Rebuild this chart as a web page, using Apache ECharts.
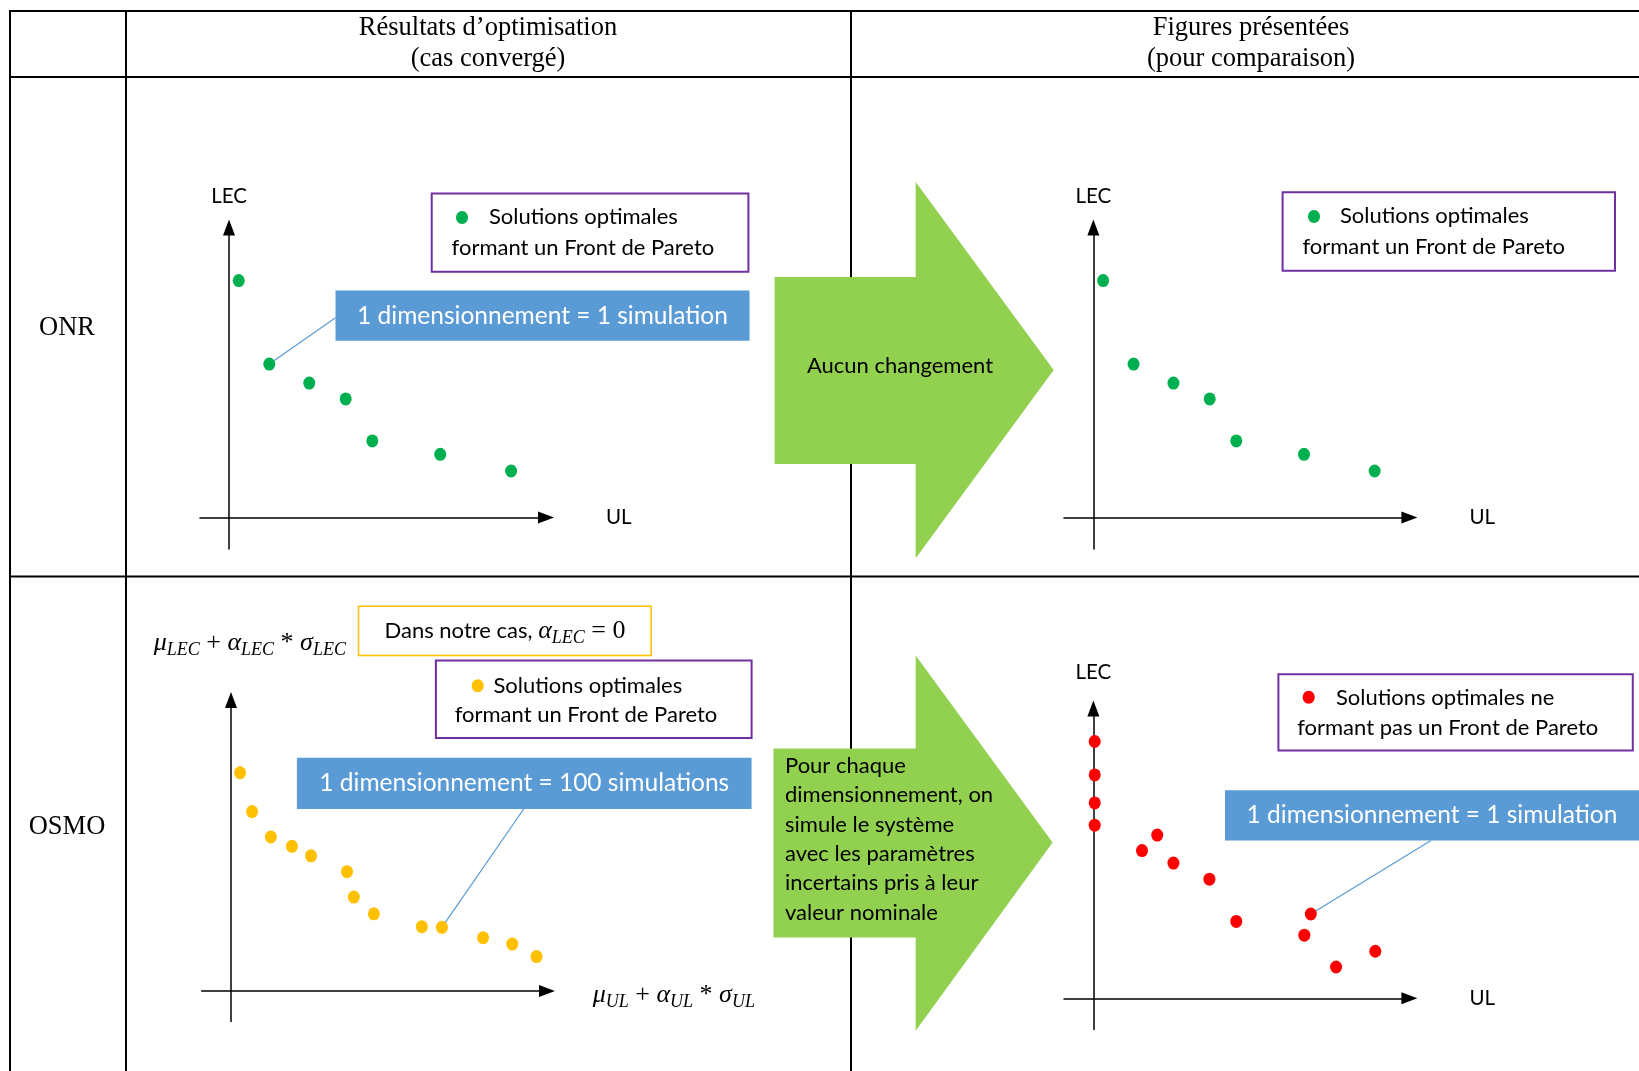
<!DOCTYPE html>
<html><head><meta charset="utf-8">
<script src="https://cdn.jsdelivr.net/npm/echarts@6/dist/echarts.min.js"></script>
<style>html,body{margin:0;padding:0;background:#fff}#c{width:1639px;height:1071px}</style>
</head><body><div id="c"></div>
<script>
// ---- text content ----
const headers = ['Résultats d’optimisation\n(cas convergé)', 'Figures présentées\n(pour comparaison)'];
const rowLabels = ['ONR', 'OSMO'];
const legendLine1 = ['Solutions optimales', 'Solutions optimales', 'Solutions optimales', 'Solutions optimales ne'];
const legendLine2 = ['formant un Front de Pareto', 'formant un Front de Pareto', 'formant un Front de Pareto', 'formant pas un Front de Pareto'];
const calloutTexts = ['1 dimensionnement = 1 simulation', '1 dimensionnement = 100 simulations', '1 dimensionnement = 1 simulation'];
const arrowTexts = ['Aucun changement', 'Pour chaque\ndimensionnement, on\nsimule le système\navec les paramètres\nincertains pris à leur\nvaleur nominale'];

// ---- data (UL, LEC as % of axis length) ----
const onrUL  = [3.0, 12.4, 24.7, 35.9, 44.1, 65.0, 86.8];
const onrLEC = [79.5, 51.5, 45.1, 39.8, 25.7, 21.2, 15.6];
const osmoUL  = [2.8, 6.5, 12.3, 18.8, 24.7, 35.8, 37.9, 44.1, 58.9, 65.1, 77.8, 86.8, 94.3];
const osmoLEC = [73.0, 60.0, 51.5, 48.4, 45.2, 39.9, 31.4, 25.8, 21.5, 21.3, 17.8, 15.7, 11.5];
const nomUL  = [0.4, 0.4, 0.4, 0.4, 19.7, 15.0, 24.7, 35.8, 44.1, 67.1, 65.1, 74.9, 87.0];
const nomLEC = [86.2, 75.0, 65.6, 58.1, 54.8, 49.6, 45.4, 40.0, 25.8, 28.3, 21.2, 10.5, 15.8];
const calloutIndex = [1, 9, 9];

const GREEN = '#00B050', YELLOW = '#FFC000', RED = '#FF0000', BLUE = '#5B9BD5', ARROW = '#92D050', PURPLE = '#7030A0';
const W = 1639, H = 1071;
const SANS = 'Lato', SERIF = '"Liberation Serif"';

function zip(a, b) { return a.map((v, i) => [v, b[i]]); }

function panel(ox, oy, lenX, lenY, extL, extB) {
  const a = 8;
  return {
    grid: { left: ox - extL, right: W - (ox + lenX - a), top: oy - lenY + a, bottom: H - (oy + extB) },
    x: { min: -extL / lenX * 100, max: (lenX - a) / lenX * 100 },
    y: { min: -extB / lenY * 100, max: (lenY - a) / lenY * 100 }
  };
}
const panels = [
  panel(229, 517.5, 325, 298, 29, 31.5),
  panel(1093.4, 517.5, 324, 298, 29.4, 31.5),
  panel(231, 991, 324, 299, 29.3, 30.5),
  panel(1093.4, 998.3, 324, 297.9, 29.4, 31.3)
];
const axisLine = { show: true, onZero: true, symbol: ['none', 'triangle'], symbolSize: [12, 16], lineStyle: { color: '#000', width: 1.5 } };
const nameStyleY = { fontFamily: SANS, fontSize: 20.5, color: '#000' };
const nameStyleX = { fontFamily: SANS, fontSize: 20.5, color: '#000', padding: [7, 0, 0, 0] };
const xNames = ['UL', 'UL', '', 'UL'];
const yNames = ['LEC', 'LEC', '', 'LEC'];
const yGaps = [21, 21, 21, 26];

const grids = panels.map(p => p.grid);
const xAxes = panels.map((p, i) => ({
  type: 'value', gridIndex: i, min: p.x.min, max: p.x.max, axisLine,
  axisTick: { show: false }, axisLabel: { show: false }, splitLine: { show: false },
  name: xNames[i], nameLocation: 'end', nameGap: 60, nameTextStyle: nameStyleX
}));
const yAxes = panels.map((p, i) => ({
  type: 'value', gridIndex: i, min: p.y.min, max: p.y.max, axisLine,
  axisTick: { show: false }, axisLabel: { show: false }, splitLine: { show: false },
  name: yNames[i], nameLocation: 'end', nameGap: yGaps[i], nameTextStyle: nameStyleY
}));

const seriesData = [zip(onrUL, onrLEC), zip(onrUL, onrLEC), zip(osmoUL, osmoLEC), zip(nomUL, nomLEC)];
const seriesColors = [GREEN, GREEN, YELLOW, RED];
// callout anchor (pixel) on the blue boxes: [panelIndex, dataIndex, x, y]
const callouts = [[0, calloutIndex[0], 335.5, 317.8], [2, calloutIndex[1], 523.7, 809], [3, calloutIndex[2], 1431, 840.4]];

const series = seriesData.map((d, i) => {
  const s = {
    type: 'scatter', xAxisIndex: i, yAxisIndex: i, data: d, symbol: 'circle', symbolSize: [12, 13],
    itemStyle: { color: seriesColors[i], opacity: 1 }, z: 5, emphasis: { disabled: true }
  };
  const c = callouts.find(c => c[0] === i);
  if (c) {
    s.markLine = {
      silent: true, symbol: ['none', 'none'], label: { show: false }, z: 3,
      lineStyle: { color: BLUE, width: 1.2, type: 'solid', opacity: 1 },
      data: [[{ coord: d[c[1]] }, { x: c[2], y: c[3] }]]
    };
  }
  return s;
});

// ---- graphic (table, boxes, arrows) ----
const g = [];
function line(x1, y1, x2, y2, w) { g.push({ type: 'line', shape: { x1, y1, x2, y2 }, style: { stroke: '#000', lineWidth: w || 2 }, z: 1 }); }
line(10, 11, W, 11); line(10, 77, W, 77); line(10, 576.5, W, 576.5);
line(10, 10, 10, H); line(126, 10, 126, H); line(851, 10, 851, H);

const HF = '26.5px ' + SERIF;
g.push({ type: 'text', x: 488, y: 44, z: 10, style: { text: headers[0], font: HF, fill: '#000', align: 'center', verticalAlign: 'middle', lineHeight: 31 } });
g.push({ type: 'text', x: 1251, y: 44, z: 10, style: { text: headers[1], font: HF, fill: '#000', align: 'center', verticalAlign: 'middle', lineHeight: 31 } });
g.push({ type: 'text', x: 67, y: 328, z: 10, style: { text: rowLabels[0], font: HF, fill: '#000', align: 'center', verticalAlign: 'middle' } });
g.push({ type: 'text', x: 67, y: 827, z: 10, style: { text: rowLabels[1], font: HF, fill: '#000', align: 'center', verticalAlign: 'middle' } });

// big green arrows
g.push({ type: 'polygon', z: 4, shape: { points: [[774.6, 277], [915.7, 277], [915.7, 181.9], [1053.7, 370], [915.7, 558.2], [915.7, 464], [774.6, 464]] }, style: { fill: ARROW } });
g.push({ type: 'polygon', z: 4, shape: { points: [[773.5, 748.4], [915.7, 748.4], [915.7, 655.4], [1052.6, 842.5], [915.7, 1030.7], [915.7, 937.6], [773.5, 937.6]] }, style: { fill: ARROW } });
g.push({ type: 'text', x: 900, y: 366, z: 10, style: { text: arrowTexts[0], font: '22px ' + SANS, fill: '#000', align: 'center', verticalAlign: 'middle' } });
g.push({ type: 'text', x: 785, y: 751.4, z: 10, style: { text: arrowTexts[1], font: '22px ' + SANS, fill: '#000', align: 'left', verticalAlign: 'top', lineHeight: 29.3 } });

// legend boxes
const legendBoxes = [
  { r: [431.7, 193.4, 316.7, 78.4], dot: [462, 217.4], t1: [489, 217.4], t2: [451.6, 247.7] },
  { r: [1282.6, 192.3, 332.4, 78.4], dot: [1314, 216.4], t1: [1340, 216.4], t2: [1302.4, 246.7] },
  { r: [435.9, 660.6, 315.7, 77.4], dot: [477.7, 685.7], t1: [493.4, 685.7], t2: [454.7, 715] },
  { r: [1278.4, 674.2, 354.4, 76.3], dot: [1308.7, 697.2], t1: [1336, 698.3], t2: [1297.2, 727.5] }
];
legendBoxes.forEach((b, i) => {
  g.push({ type: 'rect', z: 6, shape: { x: b.r[0], y: b.r[1], width: b.r[2], height: b.r[3] }, style: { fill: '#fff', stroke: PURPLE, lineWidth: 2 } });
  g.push({ type: 'ellipse', z: 7, shape: { cx: b.dot[0], cy: b.dot[1], rx: 6, ry: 6.5 }, style: { fill: seriesColors[i] } });
  g.push({ type: 'text', z: 7, x: b.t1[0], y: b.t1[1], style: { text: legendLine1[i], font: '22px ' + SANS, fill: '#000', align: 'left', verticalAlign: 'middle' } });
  g.push({ type: 'text', z: 7, x: b.t2[0], y: b.t2[1], style: { text: legendLine2[i], font: '22px ' + SANS, fill: '#000', align: 'left', verticalAlign: 'middle' } });
});

// blue callout boxes
const blueBoxes = [[335.5, 290.6, 414, 50.2], [296.9, 757.8, 454.7, 51.2], [1225, 790.2, 414, 50.2]];
blueBoxes.forEach((r, i) => {
  g.push({ type: 'rect', z: 6, shape: { x: r[0], y: r[1], width: r[2], height: r[3] }, style: { fill: BLUE } });
  g.push({ type: 'text', z: 7, x: r[0] + r[2] / 2, y: r[1] + r[3] / 2, style: { text: calloutTexts[i], font: '24.5px ' + SANS, fill: '#fff', align: 'center', verticalAlign: 'middle' } });
});

// math labels
const mathRich = {
  m: { fontFamily: SERIF, fontStyle: 'italic', fontSize: 26, color: '#000' },
  s: { fontFamily: SERIF, fontStyle: 'italic', fontSize: 18, color: '#000', padding: [14, 0, 0, 0] },
  o: { fontFamily: SERIF, fontSize: 26, color: '#000' },
  t: { fontFamily: SANS, fontSize: 22, color: '#000' }
};
g.push({ type: 'rect', z: 6, shape: { x: 358.5, y: 606.3, width: 292.7, height: 49.1 }, style: { fill: '#fff', stroke: YELLOW, lineWidth: 1.5 } });
g.push({ type: 'text', z: 7, x: 505, y: 631.4, style: { text: '{t|Dans notre cas, }{m|α}{s|LEC}{o| = 0}', rich: mathRich, align: 'center', verticalAlign: 'middle' } });
g.push({ type: 'text', z: 7, x: 153.7, y: 643, style: { text: '{m|μ}{s|LEC}{o| + }{m|α}{s|LEC}{o| * }{m|σ}{s|LEC}', rich: mathRich, align: 'left', verticalAlign: 'middle' } });
g.push({ type: 'text', z: 7, x: 592.7, y: 995, style: { text: '{m|μ}{s|UL}{o| + }{m|α}{s|UL}{o| * }{m|σ}{s|UL}', rich: mathRich, align: 'left', verticalAlign: 'middle' } });

const chart = echarts.init(document.getElementById('c'), null, { renderer: 'canvas' });
chart.setOption({
  animation: false,
  backgroundColor: '#fff',
  grid: grids, xAxis: xAxes, yAxis: yAxes, series,
  graphic: { elements: g }
});
</script>
</body></html>
